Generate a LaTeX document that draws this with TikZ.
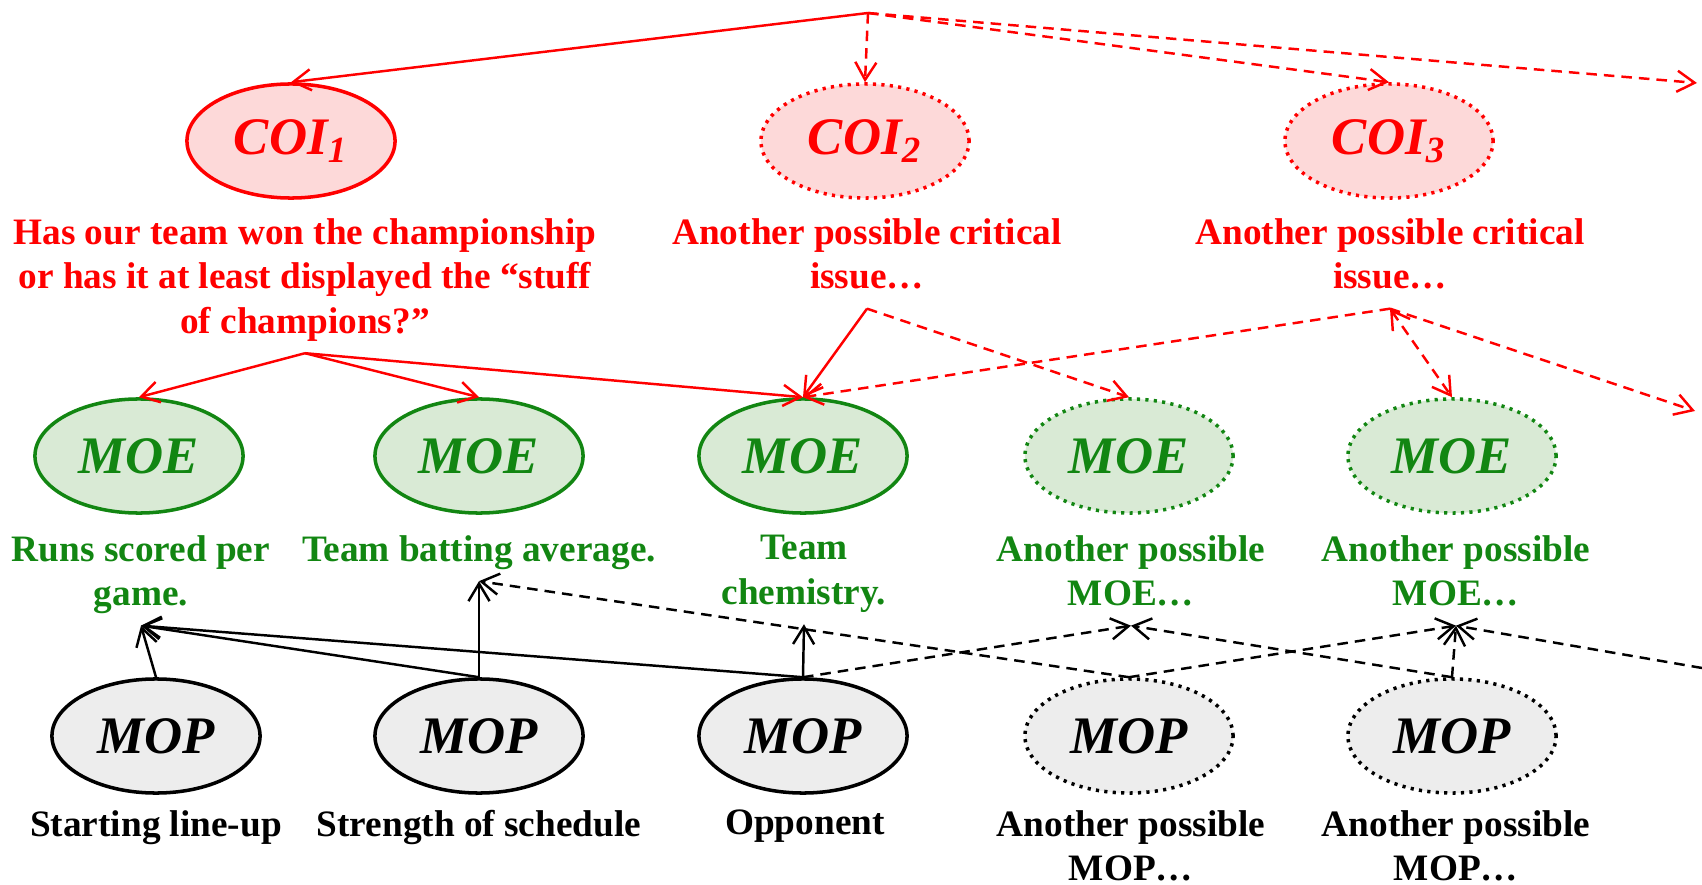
\documentclass[tikz,border=0pt]{standalone}
\usepackage{fontspec}
\setmainfont{Liberation Serif}
\usepackage{tikz}
\usetikzlibrary{shapes.geometric,arrows.meta}

\definecolor{coired}{RGB}{255,0,0}
\definecolor{coifill}{RGB}{253,217,217}
\definecolor{moegreen}{RGB}{18,134,18}
\definecolor{moefill}{RGB}{217,234,213}
\definecolor{mopfill}{RGB}{237,237,237}

\begin{document}
\begin{tikzpicture}[x=0.01cm, y=-0.01cm,
    >={Straight Barb[length=5pt,width=6pt]},
    oval/.style={ellipse, minimum width=2.08cm, minimum height=1.14cm, inner sep=0pt,
      line width=1pt, font=\fontsize{15}{18}\selectfont\bfseries\itshape},
    coi/.style={oval, draw=coired, fill=coifill, text=coired},
    moe/.style={oval, draw=moegreen, fill=moefill, text=moegreen},
    mop/.style={oval, draw=black, fill=mopfill},
    maybe/.style={dash pattern=on 0.9pt off 1.5pt},
    txt/.style={align=center, anchor=north, inner sep=3pt, text depth=2.5pt,
      font=\fontsize{10.6}{12.66}\selectfont\bfseries},
    bottomtxt/.style={txt, inner sep=1pt, text depth=0pt},
    link/.style={->, line width=0.7pt},
    guess/.style={link, dash pattern=on 3pt off 2pt}]
  \useasboundingbox (0,0) rectangle (1702,885);

  % critical issues
  \coordinate (apex) at (868,13);
  \coordinate (offcoi) at (1697,83);
  \node[coi] (coi1) at (291,141) {COI\textsubscript{1}};
  \node[coi, maybe] (coi2) at (865,141) {COI\textsubscript{2}};
  \node[coi, maybe] (coi3) at (1389,141) {COI\textsubscript{3}};

  \node[txt, text=coired] (coi1txt) at (305,207)
    {Has our team won the championship\\or has it at least displayed the “stuff\\of champions?”};
  \node[txt, text=coired] (coi2txt) at (867,207) {Another possible critical\\issue…};
  \node[txt, text=coired] (coi3txt) at (1390,207) {Another possible critical\\issue…};

  % measures of effectiveness
  \coordinate (offmoe) at (1695,411);
  \foreach \n/\x/\d in {1/139/solid, 2/479/solid, 3/803/solid, 4/1129/maybe, 5/1452/maybe}
  {
    \node[moe, \d] (moe\n) at (\x,456) {MOE};
  }
  \node[txt, text=moegreen] (moe1txt) at (141,524) {Runs scored per\\game.};
  \node[txt, text=moegreen] (moe2txt) at (479,524) {Team batting average.};
  \node[txt, text=moegreen] (moe3txt) at (804,524) {Team\\chemistry.};
  \node[txt, text=moegreen] (moe4txt) at (1131,524) {Another possible\\MOE…};
  \node[txt, text=moegreen] (moe5txt) at (1456,524) {Another possible\\MOE…};

  % measures of performance
  \coordinate (offmop) at (1702,668);
  \foreach \n/\x/\d in {1/156/solid, 2/479/solid, 3/803/solid, 4/1129/maybe, 5/1452/maybe}
  {
    \node[mop, \d] (mop\n) at (\x,736) {MOP};
  }
  \node[bottomtxt] (mop1txt) at (156,806) {Starting line-up};
  \node[bottomtxt] (mop2txt) at (479,806) {Strength of schedule};
  \node[bottomtxt] (mop3txt) at (805,806) {Opponent};
  \node[bottomtxt] (mop4txt) at (1131,806) {Another possible\\MOP…};
  \node[bottomtxt] (mop5txt) at (1456,806) {Another possible\\MOP…};

  % red links
  \draw[link, coired] (apex) -- (coi1.north);
  \draw[guess, coired] (apex) -- (coi2.north);
  \draw[guess, coired] (apex) -- (coi3.north);
  \draw[guess, coired] (apex) -- (offcoi);

  \draw[link, coired] (coi1txt.south) -- (moe1.north);
  \draw[link, coired] (coi1txt.south) -- (moe2.north);
  \draw[link, coired] (coi1txt.south) -- (moe3.north);
  \draw[link, coired] (coi2txt.south) -- (moe3.north);
  \draw[guess, coired] (coi2txt.south) -- (moe4.north);
  \draw[guess, coired] (coi3txt.south) -- (moe3.north);
  \draw[guess, coired, <->] (coi3txt.south) -- (moe5.north);
  \draw[guess, coired] (coi3txt.south) -- (offmoe);

  % black links
  \draw[link] (mop1.north) -- (moe1txt.south);
  \draw[link] (mop2.north) -- (moe1txt.south);
  \draw[link] (mop2.north) -- (moe2txt.south);
  \draw[link] (mop3.north) -- (moe1txt.south);
  \draw[link] (mop3.north) -- (moe3txt.south);
  \draw[guess] (mop3.north) -- (moe4txt.south);
  \draw[guess] (mop4.north) -- (moe2txt.south);
  \draw[guess] (mop4.north) -- (moe5txt.south);
  \draw[guess] (mop5.north) -- (moe4txt.south);
  \draw[guess] (mop5.north) -- (moe5txt.south);
  \draw[guess] (offmop) -- (moe5txt.south);
\end{tikzpicture}
\end{document}
